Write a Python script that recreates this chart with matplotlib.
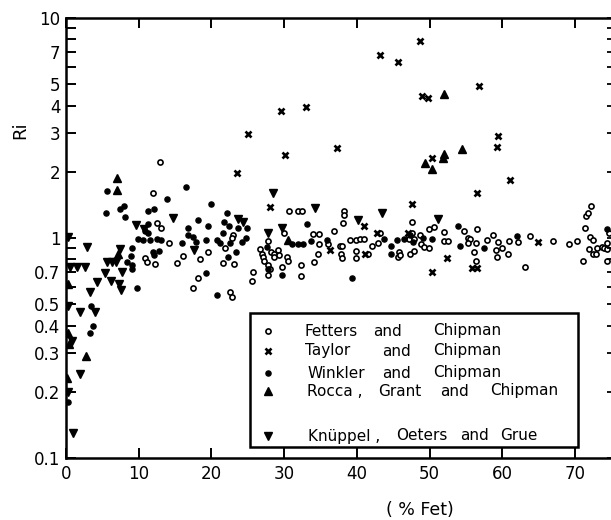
import matplotlib
matplotlib.use("Agg")
import matplotlib.pyplot as plt
from matplotlib.patches import Rectangle
from matplotlib.ticker import FixedLocator, FixedFormatter, NullFormatter

# Fetters and Chipman
fetters_fe = [12.0, 12.9, 12.5, 13.1, 14.2, 10.9, 11.1, 12.3, 15.3, 16.1,
              18.4, 19.5, 18.2, 17.5, 21.6, 21.9, 23.0, 22.8, 23.1, 22.6,
              22.8, 25.7, 25.6, 27.8, 30.0, 30.7, 31.9, 32.5, 26.7, 27.0,
              27.1, 27.2, 28.2, 28.6, 29.2, 29.3, 28.6, 30.4, 30.5, 27.8,
              28.1, 27.8, 29.7, 32.3, 32.3, 34.0, 34.8, 34.1, 34.8, 34.7,
              36.0, 36.9, 37.7, 38.0, 37.8, 38.0, 38.2, 38.2, 38.1, 39.9,
              39.8, 39.1, 39.8, 40.4, 41.0, 41.5, 42.1, 42.9, 43.1, 45.7,
              45.8, 45.9, 47.5, 47.6, 47.2, 47.9, 48.6, 48.8, 49.2, 49.9,
              47.3, 47.9, 49.9, 50.6, 51.9, 51.9, 52.5, 54.7, 55.2, 55.6,
              55.3, 56.3, 56.5, 56.1, 56.4, 57.9, 58.7, 59.4, 59.1, 59.3,
              60.0, 60.7, 60.9, 62.2, 63.8, 63.1, 67.0, 69.2, 70.3, 71.1,
              71.4, 71.5, 71.8, 72.2, 72.1, 72.5, 71.9, 72.4, 72.8, 73.0,
              73.7, 74.0, 74.4, 74.4, 74.6, 74.4]
fetters_ri = [1.60, 2.21, 1.17, 1.11, 0.95, 0.81, 0.78, 0.76, 0.77, 0.83,
              0.80, 0.86, 0.66, 0.59, 0.77, 0.90, 1.03, 1.00, 0.76, 0.57,
              0.54, 0.70, 0.64, 0.97, 1.05, 1.33, 1.33, 1.33, 0.89, 0.85,
              0.82, 0.79, 0.86, 0.85, 0.88, 0.84, 0.82, 0.82, 0.79, 0.75,
              0.72, 0.68, 0.74, 0.75, 0.67, 1.04, 1.04, 0.78, 0.94, 0.85,
              0.94, 1.08, 0.92, 0.92, 0.85, 0.81, 1.33, 1.27, 1.17, 0.87,
              0.81, 0.98, 0.98, 0.99, 0.99, 0.85, 0.92, 0.95, 1.05, 0.82,
              0.86, 0.84, 1.18, 1.05, 0.99, 0.99, 1.03, 0.94, 0.91, 0.90,
              0.85, 0.87, 1.10, 1.12, 1.06, 0.97, 0.97, 1.08, 1.00, 0.99,
              0.95, 0.95, 1.10, 0.86, 0.79, 0.98, 1.03, 0.96, 0.88, 0.82,
              0.90, 0.85, 0.97, 0.96, 1.02, 0.74, 0.97, 0.94, 0.97, 0.79,
              1.11, 1.26, 1.30, 1.40, 1.01, 0.98, 0.89, 0.85, 0.85, 0.90,
              0.91, 0.90, 0.95, 0.89, 1.05, 0.79]

# Taylor and Chipman
taylor_fe = [43.2, 45.7, 29.6, 33.0, 25.0, 30.1, 37.3, 23.5, 48.6, 49.0,
             49.7, 56.8, 59.4, 59.3, 50.3, 61.1, 56.5, 47.5, 47.0, 52.4,
             50.3, 55.8, 56.5, 64.9, 28.1, 40.9, 42.8, 36.3, 41.1]
taylor_ri = [6.79, 6.31, 3.78, 3.94, 2.97, 2.38, 2.56, 1.97, 7.86, 4.42,
             4.33, 4.91, 2.91, 2.59, 2.31, 1.83, 1.60, 1.43, 1.05, 0.81,
             0.70, 0.73, 0.73, 0.96, 1.38, 1.13, 1.05, 0.88, 0.85]

# Winkler and Chipman
winkler_fe = [5.6, 16.5, 13.9, 19.9, 5.5, 7.4, 8.0, 8.1, 11.3, 12.1,
              11.3, 9.9, 10.6, 11.6, 12.5, 13.1, 10.9, 11.3, 12.8, 12.0,
              12.1, 9.1, 8.9, 8.4, 9.1, 9.1, 9.8, 16.8, 16.8, 17.5,
              17.9, 18.2, 19.5, 19.3, 20.8, 21.2, 21.7, 22.1, 21.6, 19.3,
              20.8, 22.3, 16.0, 3.7, 3.3, 3.4, 22.4, 23.7, 24.9, 24.8,
              24.2, 22.6, 23.4, 33.1, 27.6, 31.1, 31.9, 32.6, 33.7, 35.9,
              39.3, 43.7, 44.7, 45.5, 44.7, 46.4, 29.7, 27.8, 47.3, 47.7,
              49.1, 50.3, 53.9, 54.2, 57.4, 62.0, 74.4, 0.3]
winkler_ri = [1.64, 1.71, 1.50, 1.43, 1.30, 1.36, 1.40, 1.25, 1.33, 1.36,
              1.16, 0.99, 0.98, 0.98, 0.99, 0.98, 1.08, 1.05, 0.87, 0.86,
              0.84, 0.90, 0.83, 0.78, 0.75, 0.72, 0.59, 1.11, 1.03, 1.01,
              0.96, 1.21, 1.13, 0.98, 0.98, 0.95, 1.18, 1.30, 1.05, 0.69,
              0.55, 0.82, 0.95, 0.40, 0.37, 0.49, 1.13, 1.11, 1.11, 1.00,
              0.96, 0.95, 0.86, 1.16, 0.91, 0.94, 0.94, 0.94, 0.97, 0.98,
              0.66, 0.99, 0.92, 0.98, 0.85, 0.99, 0.68, 0.72, 1.03, 0.96,
              1.00, 0.99, 1.13, 0.92, 0.90, 1.02, 1.10, 0.18]

# Rocca, Grant and Chipman
rocca_fe = [52.0, 54.5, 52.0, 51.8, 49.4, 50.3, 7.0, 7.0, 7.2, 2.75,
            30.5, 0.3, 0.3, 0.4, 0.1]
rocca_ri = [4.51, 2.54, 2.41, 2.31, 2.19, 2.06, 1.87, 1.65, 0.85, 0.29,
            0.98, 0.62, 0.37, 0.33, 0.23]

# Knueppel, Oeters and Grue
knuppel_fe = [2.9, 1.5, 2.6, 3.3, 1.9, 4.0, 5.6, 6.3, 6.9, 7.4,
              4.3, 5.4, 6.2, 7.3, 7.6, 7.7, 9.6, 10.7, 14.7, 17.6,
              1.9, 1.0, 28.5, 34.3, 40.2, 43.5, 27.8, 29.7, 23.7, 24.3,
              51.2, 0.3, 0.5, 0.8, 0.3, 0.3]
knuppel_ri = [0.91, 0.74, 0.74, 0.57, 0.46, 0.46, 0.78, 0.78, 0.78, 0.89,
              0.63, 0.69, 0.64, 0.62, 0.58, 0.70, 1.15, 1.10, 1.23, 0.88,
              0.24, 0.13, 1.60, 1.37, 1.21, 1.30, 1.05, 1.11, 1.22, 1.18,
              1.22, 1.01, 0.74, 0.34, 0.20, 0.49]

x_ticks = [0, 10, 20, 30, 40, 50, 60, 70]
y_major = [0.1, 0.2, 0.3, 0.4, 0.5, 0.7, 1, 2, 3, 4, 5, 7, 10]
y_labels = ["0.1", "0.2", "0.3", "0.4", "0.5", "0.7", "1", "2", "3", "4", "5", "7", "10"]
y_minor = [0.6, 0.8, 0.9, 6, 8, 9]

plt.rcParams['font.family'] = ['DejaVu Sans']

fig = plt.figure(figsize=(6.11, 5.20), dpi=100)
ax = fig.add_axes([66 / 611, 62 / 520, 547 / 611, 440 / 520])

open_o = dict(marker="o", ms=3.7, mew=1.2, mfc="white")
cross = dict(marker="x", ms=4.0, mew=1.9)
dot = dict(marker="o", ms=3.7)
tri_up = dict(marker="^", ms=5.2)
tri_down = dict(marker="v", ms=5.2)

styles = dict(color="black", linestyle="none")
ax.plot(fetters_fe, fetters_ri, **open_o, **styles)
ax.plot(taylor_fe, taylor_ri, **cross, **styles)
ax.plot(winkler_fe, winkler_ri, **dot, **styles)
ax.plot(rocca_fe, rocca_ri, **tri_up, **styles)
ax.plot(knuppel_fe, knuppel_ri, **tri_down, **styles)

ax.set_yscale("log")
ax.set_xlim(0, 75.2)
ax.set_ylim(0.1, 10)

ax.set_xticks(x_ticks)
ax.yaxis.set_major_locator(FixedLocator(y_major))
ax.yaxis.set_major_formatter(FixedFormatter(y_labels))
ax.yaxis.set_minor_locator(FixedLocator(y_minor))
ax.yaxis.set_minor_formatter(NullFormatter())

ax.tick_params(axis="x", which="both", direction="in", top=True, bottom=True,
               length=7.5, width=1.4, labelsize=12, pad=5)
ax.tick_params(axis="y", which="both", direction="in", left=True, right=False,
               length=7.5, width=1.4, labelsize=12, pad=4)
for side in ["left", "bottom", "top"]:
    ax.spines[side].set_linewidth(1.8)
ax.spines["right"].set_visible(False)

# short ticks on the right edge
ax_r = ax.twinx()
ax_r.set_yscale("log")
ax_r.set_ylim(0.1, 10)
ax_r.yaxis.set_major_locator(FixedLocator(y_major))
ax_r.yaxis.set_minor_locator(FixedLocator(y_minor))
ax_r.yaxis.set_major_formatter(NullFormatter())
ax_r.yaxis.set_minor_formatter(NullFormatter())
ax_r.tick_params(axis="y", which="both", direction="in", length=4.5, width=1.3)
for side in ["left", "bottom", "top", "right"]:
    ax_r.spines[side].set_visible(False)

fig.text(20 / 611, 1 - 130 / 520, "Ri", rotation=90, fontsize=13,
         ha="center", va="center")
fig.text(420 / 611, 1 - 510 / 520, "( % Fet)", fontsize=12.5,
         ha="center", va="center")

# legend box
def px(xp, yp):
    return ((xp - 66) / 547, (458 - yp) / 440)

x0, y1 = px(250, 447)
x1, y0 = px(578, 313)
ax.add_patch(Rectangle((x0, y1), x1 - x0, y0 - y1, transform=ax.transAxes,
                       facecolor="white", edgecolor="black", linewidth=1.8,
                       zorder=5))

legend_rows = [
    (331, open_o, [("Fetters", 305), ("and", 373), ("Chipman", 433)]),
    (351, cross, [("Taylor", 305), ("and", 382), ("Chipman", 433)]),
    (373, dot, [("Winkler", 307), ("and", 382), ("Chipman", 433)]),
    (391, tri_up, [("Rocca ,", 307), ("Grant", 378), ("and", 440), ("Chipman", 490)]),
    (436, tri_down, [("Knüppel ,", 308), ("Oeters", 396), ("and", 460), ("Grue", 500)]),
]
for row_y, mstyle, words in legend_rows:
    mx, my = px(268, row_y)
    ax.plot([mx], [my], transform=ax.transAxes, color="black",
            linestyle="none", zorder=6, clip_on=False, **mstyle)
    for word, wx in words:
        tx, ty = px(wx, row_y)
        ax.text(tx, ty, word, transform=ax.transAxes, fontsize=11,
                ha="left", va="center", zorder=6)

fig.savefig("out.png", dpi=100)
